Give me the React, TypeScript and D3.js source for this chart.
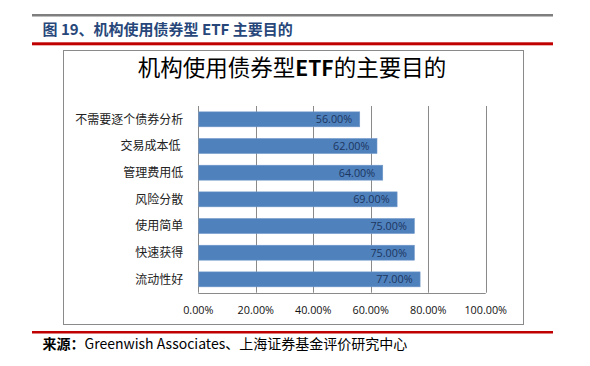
import React from "react";
import * as d3 from "d3";

const categories = ["不需要逐个债券分析", "交易成本低", "管理费用低", "风险分散", "使用简单", "快速获得", "流动性好"];
const values = [56, 62, 64, 69, 75, 75, 77];
const xTicks = [0, 20, 40, 60, 80, 100];

const headerTitle = "图 19、机构使用债券型 ETF 主要目的";
const chartTitlePre = "机构使用债券型";
const chartTitleMid = "ETF";
const chartTitlePost = "的主要目的";
const sourceLabel = "来源：";
const sourceText = "Greenwish Associates、上海证券基金评价研究中心";

const W = 590;
const H = 366;
const CJK = "'Noto Sans CJK SC', 'Noto Sans', sans-serif";
const NUM = "'Open Sans', 'Noto Sans', sans-serif";

export default function App() {
  const plot = { left: 198.3, right: 485.7, top: 106, bottom: 292.7 };
  const x = d3.scaleLinear().domain([0, 100]).range([plot.left, plot.right]);
  const y = d3
    .scaleBand<string>()
    .domain(categories)
    .range([plot.top, plot.bottom])
    .paddingInner(0.44)
    .paddingOuter(0.22);

  return (
    <div style={{ position: "fixed", left: 0, top: 0, width: W, height: H, background: "#fff" }}>
      <svg width={W} height={H} viewBox={`0 0 ${W} ${H}`} style={{ display: "block" }}>
        <rect x={0} y={0} width={W} height={H} fill="#fff" />
        {/* header */}
        <rect x={32} y={14} width={521} height={2.5} fill="#7f7f7f" />
        <text x={42.5} y={34.5} fontFamily={CJK} fontWeight={700} fontSize={15} fill="#27477a" style={{ whiteSpace: "pre" }}>
          {headerTitle}
        </text>
        <rect x={32} y={42.3} width={521} height={3} fill="#c00000" />

        {/* chart box */}
        <rect x={63.5} y={50.5} width={460} height={274} fill="#fff" stroke="#8a8a8a" strokeWidth={1} />
        <text x={292} y={76} textAnchor="middle" fontFamily={CJK} fontSize={22.5} fill="#000">
          <tspan>{chartTitlePre}</tspan>
          <tspan fontWeight={700} fontSize={21}>{chartTitleMid}</tspan>
          <tspan>{chartTitlePost}</tspan>
        </text>

        {/* gridlines */}
        {xTicks.map((t) => (
          <line
            key={t}
            x1={Math.round(x(t)) + 0.5}
            x2={Math.round(x(t)) + 0.5}
            y1={plot.top}
            y2={plot.bottom}
            stroke="#8a8a8a"
            strokeWidth={1}
          />
        ))}
        <line x1={plot.left} x2={plot.right} y1={Math.round(plot.bottom) + 0.5} y2={Math.round(plot.bottom) + 0.5} stroke="#8a8a8a" />

        {/* bars */}
        {categories.map((c, i) => (
          <g key={c}>
            <rect
              x={x(0) + 0.5}
              y={y(c)!}
              width={x(values[i]) - x(0)}
              height={y.bandwidth()}
              fill="#4f81bd"
              stroke="#6f97c8"
              strokeWidth={0.6}
            />
            <text
              x={x(values[i]) - 7}
              y={y(c)! + y.bandwidth() / 2}
              dy="0.36em"
              textAnchor="end"
              fontFamily={NUM}
              fontSize={10.8}
              fill="#1c3660"
            >
              {values[i].toFixed(2) + "%"}
            </text>
            <text
              x={plot.left - 15}
              y={y(c)! + y.bandwidth() / 2}
              dy="0.36em"
              textAnchor="end"
              fontFamily={CJK}
              fontSize={12}
              fill="#222"
              style={{ whiteSpace: "pre" }}
            >
              {c === "交易成本低" ? c + " " : c}
            </text>
          </g>
        ))}

        {/* x tick labels */}
        {xTicks.map((t) => (
          <text
            key={"l" + t}
            x={x(t)}
            y={310}
            dy="0.36em"
            textAnchor="middle"
            fontFamily={NUM}
            fontSize={10.8}
            fill="#111"
          >
            {t.toFixed(2) + "%"}
          </text>
        ))}

        {/* footer */}
        <rect x={32} y={331} width={521} height={2.5} fill="#c00000" />
        <text x={42.5} y={349} fontFamily={CJK} fontSize={14} fill="#000">
          <tspan fontWeight={700}>{sourceLabel}</tspan>
          <tspan>{sourceText}</tspan>
        </text>
      </svg>
    </div>
  );
}
